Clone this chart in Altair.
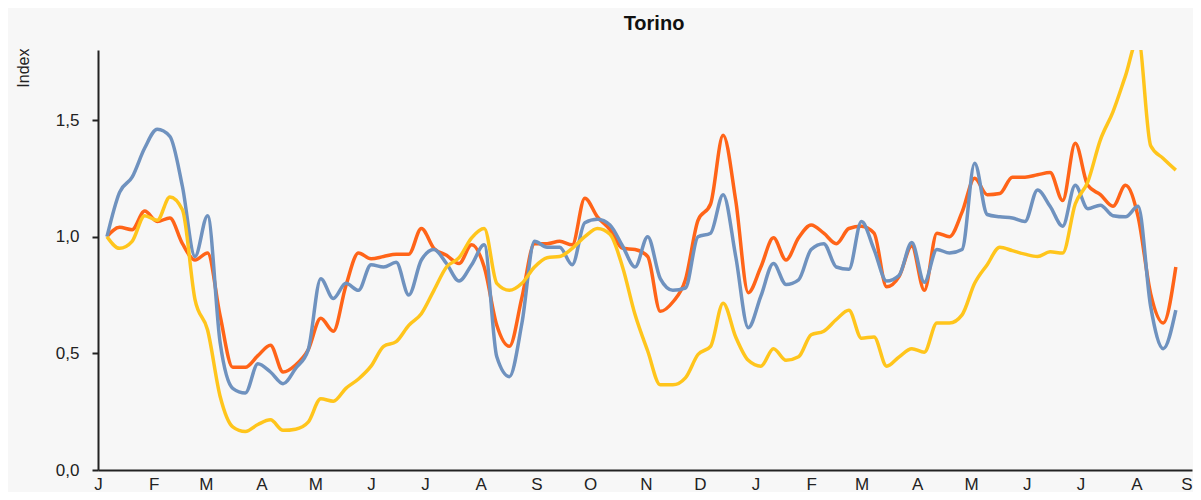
import json
import altair as alt
import pandas as pd

# ---- data (weekly index values) ----
start_date = "2020-01-06"
n_weeks = 86

orange = [1.00, 1.04, 1.03, 1.11, 1.065, 1.08, 0.97, 0.90, 0.93, 0.66,
          0.44, 0.44, 0.49, 0.535, 0.42, 0.45, 0.515, 0.65, 0.595, 0.79,
          0.93, 0.905, 0.915, 0.925, 0.925, 1.035, 0.95, 0.92, 0.885, 0.965,
          0.87, 0.62, 0.53, 0.74, 0.97, 0.97, 0.98, 0.965, 1.165, 1.085,
          1.03, 0.95, 0.945, 0.915, 0.68, 0.72, 0.815, 1.07, 1.14, 1.435,
          1.155, 0.76, 0.87, 0.995, 0.90, 0.995, 1.05, 1.015, 0.97, 1.035,
          1.045, 1.015, 0.785, 0.83, 0.96, 0.77, 1.015, 1.00, 1.105, 1.25,
          1.18, 1.185, 1.255, 1.255, 1.265, 1.275, 1.155, 1.40, 1.22, 1.18,
          1.13, 1.22, 1.085, 0.755, 0.63, 0.87]

blue = [1.00, 1.19, 1.255, 1.38, 1.46, 1.43, 1.215, 0.915, 1.09, 0.545,
        0.35, 0.33, 0.455, 0.42, 0.37, 0.435, 0.515, 0.82, 0.735, 0.80,
        0.77, 0.88, 0.87, 0.89, 0.75, 0.90, 0.945, 0.885, 0.81, 0.88,
        0.965, 0.485, 0.40, 0.63, 0.98, 0.955, 0.955, 0.88, 1.06, 1.075,
        1.05, 0.96, 0.87, 1.00, 0.82, 0.77, 0.78, 1.00, 1.015, 1.18,
        0.915, 0.61, 0.745, 0.885, 0.795, 0.815, 0.945, 0.97, 0.87, 0.86,
        1.065, 0.945, 0.81, 0.835, 0.975, 0.805, 0.945, 0.93, 0.945, 1.315,
        1.095, 1.085, 1.08, 1.065, 1.20, 1.13, 1.045, 1.22, 1.12, 1.135,
        1.09, 1.085, 1.13, 0.70, 0.52, 0.685]

yellow = [1.00, 0.95, 0.98, 1.09, 1.07, 1.17, 1.115, 0.73, 0.60, 0.315,
          0.185, 0.165, 0.195, 0.215, 0.17, 0.175, 0.205, 0.305, 0.295, 0.35,
          0.39, 0.445, 0.53, 0.55, 0.62, 0.67, 0.77, 0.87, 0.91, 0.995,
          1.035, 0.80, 0.77, 0.80, 0.87, 0.91, 0.915, 0.95, 1.00, 1.035,
          1.01, 0.87, 0.665, 0.51, 0.365, 0.365, 0.395, 0.495, 0.53, 0.715,
          0.57, 0.47, 0.445, 0.52, 0.47, 0.485, 0.58, 0.595, 0.645, 0.685,
          0.565, 0.57, 0.445, 0.485, 0.52, 0.505, 0.63, 0.63, 0.665, 0.80,
          0.88, 0.955, 0.94, 0.925, 0.915, 0.935, 0.93, 1.14, 1.235, 1.415,
          1.535, 1.69, 1.85, 1.39, 1.335, 1.285]

series_names = ["Serie 1", "Serie 2", "Serie 3"]
series_colors = ["#ff6418", "#6f92bf", "#ffc51c"]

month_labels = ["J", "F", "M", "A", "M", "J", "J", "A", "S", "O", "N", "D",
                "J", "F", "M", "A", "M", "J", "J", "A", "S"]
y_ticks = [0.0, 0.5, 1.0, 1.5]
y_max = 1.8

# ---- build table ----
dates = pd.date_range(start_date, periods=n_weeks, freq="7D", tz="UTC")
ms = [int(d.timestamp() * 1000) for d in dates]
rows = []
for name, vals in zip(series_names, [orange, blue, yellow]):
    for t, v in zip(ms, vals):
        rows.append({"t": t, "value": v, "series": name})
df = pd.DataFrame(rows)

month_starts = pd.date_range("2020-01-01", periods=len(month_labels), freq="MS", tz="UTC")
month_ms = [int(d.timestamp() * 1000) for d in month_starts]

label_expr = (f"{json.dumps(month_labels)}"
              "[utcmonth(datum.value) + 12 * (utcyear(datum.value) - 2020)]")

FONT = "Liberation Sans"

chart = (
    alt.Chart(df)
    .mark_line(strokeWidth=3.5, interpolate="monotone", clip=True)
    .encode(
        x=alt.X(
            "t:T",
            scale=alt.Scale(type="utc", domain=[month_ms[0], month_ms[-1]]),
            axis=alt.Axis(
                values=month_ms,
                labelExpr=label_expr,
                title=None,
                ticks=False,
                grid=False,
                domainColor="#222222",
                domainWidth=2,
                labelFont=FONT,
                labelFontSize=17,
                labelColor="#222222",
                labelPadding=6,
                labelFlush=False,
                labelAlign={"condition": {"test": "datum.index == 1", "value": "right"},
                            "value": "center"},
                labelOverlap=False,
            ),
        ),
        y=alt.Y(
            "value:Q",
            scale=alt.Scale(domain=[0, y_max], nice=False),
            axis=alt.Axis(
                values=y_ticks,
                labelExpr="replace(format(datum.value, '.1f'), '.', ',')",
                title="Index",
                titleFont=FONT,
                titleFontSize=16,
                titleFontWeight="normal",
                titleColor="#222222",
                titleAngle=-90,
                titleAlign="right",
                titleBaseline="alphabetic",
                titleX=-70,
                titleY=-2,
                grid=False,
                domainColor="#222222",
                domainWidth=2,
                tickColor="#222222",
                tickSize=6,
                tickWidth=2,
                labelFont=FONT,
                labelFontSize=17,
                labelColor="#222222",
                labelPadding=13,
            ),
        ),
        color=alt.Color(
            "series:N",
            scale=alt.Scale(domain=series_names, range=series_colors),
            legend=None,
        ),
        order=alt.Order("t:Q"),
    )
    .properties(
        width=1094,
        height=420,
        title=alt.TitleParams(
            "Torino",
            font=FONT,
            fontSize=20,
            fontWeight="bold",
            color="#111111",
            offset=14,
            dx=9,
        ),
        padding={"left": 90, "top": 42, "right": 1, "bottom": 22},
        autosize=alt.AutoSizeParams(type="none"),
    )
    .configure(background="#f7f7f7")
    .configure_view(stroke=None)
)

chart.save("out.html", embed_options={"renderer": "svg", "actions": False})
